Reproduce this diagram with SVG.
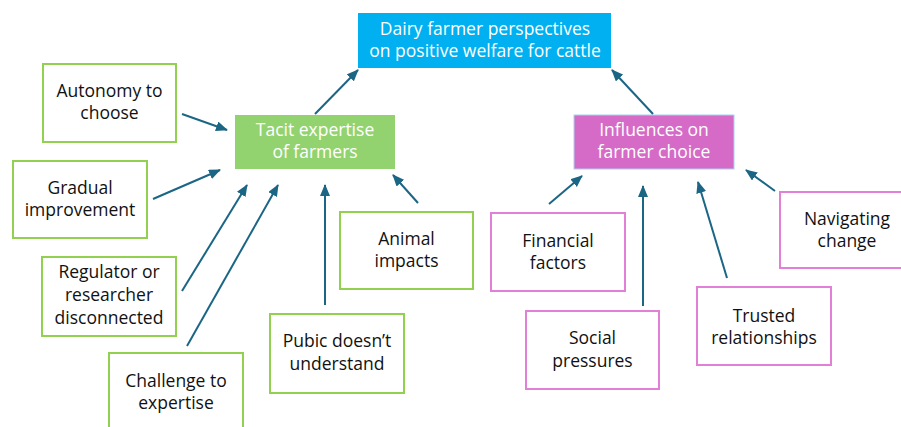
<svg xmlns="http://www.w3.org/2000/svg" width="901" height="427" viewBox="0 0 901 427">
  <style>
    text { font-family: "Open Sans", "Liberation Sans", sans-serif; font-size: 17.5px; text-anchor: middle; }
    .w { fill: #ffffff; }
    .k { fill: #111111; }
    .gbox { fill: #ffffff; stroke: #92D050; stroke-width: 2; }
    .pbox { fill: #ffffff; stroke: #E27FD6; stroke-width: 2; }
    .conn line { stroke: #1B6585; stroke-width: 2; marker-end: url(#ah); }
  </style>
  <defs>
    <marker id="ah" markerUnits="userSpaceOnUse" markerWidth="12" markerHeight="11" refX="11" refY="5" orient="auto">
      <path d="M0,0 L12,5 L0,10 z" fill="#1B6585"/>
    </marker>
  </defs>
  <rect width="901" height="427" fill="#ffffff"/>

  <g id="top">
    <rect x="358" y="13" width="253" height="55" fill="#00B0F0"/>
    <text class="w" x="485" y="35">Dairy farmer perspectives</text>
    <text class="w" x="485" y="57">on positive welfare for cattle</text>
  </g>
  <g id="tacit">
    <rect x="235" y="115" width="160" height="54" fill="#92D36F"/>
    <text class="w" x="315" y="135.5">Tacit expertise</text>
    <text class="w" x="315" y="158">of  farmers</text>
  </g>
  <g id="influences">
    <rect x="574" y="115" width="160" height="54" fill="#D56BC6" stroke="#A9D4F0" stroke-width="1"/>
    <text class="w" x="654" y="135.5">Influences on</text>
    <text class="w" x="654" y="158">farmer choice</text>
  </g>

  <g id="autonomy">
    <rect class="gbox" x="43" y="64" width="133" height="78"/>
    <text class="k" x="109.5" y="97">Autonomy to</text>
    <text class="k" x="109.5" y="119">choose</text>
  </g>
  <g id="gradual">
    <rect class="gbox" x="13" y="161" width="134" height="77"/>
    <text class="k" x="80" y="194">Gradual</text>
    <text class="k" x="80" y="216">improvement</text>
  </g>
  <g id="regulator">
    <rect class="gbox" x="42" y="257" width="134" height="79"/>
    <text class="k" x="109" y="278">Regulator or</text>
    <text class="k" x="109" y="301">researcher</text>
    <text class="k" x="109" y="324">disconnected</text>
  </g>
  <g id="challenge">
    <rect class="gbox" x="109" y="353" width="134" height="80"/>
    <text class="k" x="176" y="387">Challenge to</text>
    <text class="k" x="176" y="409">expertise</text>
  </g>
  <g id="pubic">
    <rect class="gbox" x="270" y="314" width="134" height="79"/>
    <text class="k" x="337" y="347">Pubic doesn’t</text>
    <text class="k" x="337" y="370">understand</text>
  </g>
  <g id="animal">
    <rect class="gbox" x="340" y="212" width="133" height="77"/>
    <text class="k" x="406.5" y="245">Animal</text>
    <text class="k" x="406.5" y="267">impacts</text>
  </g>

  <g id="financial">
    <rect class="pbox" x="491" y="213" width="134" height="78"/>
    <text class="k" x="558" y="247">Financial</text>
    <text class="k" x="558" y="269">factors</text>
  </g>
  <g id="social">
    <rect class="pbox" x="526" y="311" width="133" height="78"/>
    <text class="k" x="592.5" y="344">Social</text>
    <text class="k" x="592.5" y="367">pressures</text>
  </g>
  <g id="trusted">
    <rect class="pbox" x="697" y="287" width="134" height="78"/>
    <text class="k" x="764" y="322">Trusted</text>
    <text class="k" x="764" y="344">relationships</text>
  </g>
  <g id="navigating">
    <rect class="pbox" x="780" y="192" width="134" height="76"/>
    <text class="k" x="847" y="225">Navigating</text>
    <text class="k" x="847" y="247">change</text>
  </g>

  <g id="connectors" class="conn">
    <line x1="315" y1="114" x2="358" y2="70"/>
    <line x1="653" y1="114" x2="612" y2="70"/>
    <line x1="182" y1="114" x2="227" y2="130"/>
    <line x1="153" y1="199" x2="220" y2="170"/>
    <line x1="182" y1="291" x2="247" y2="185"/>
    <line x1="187" y1="346" x2="278" y2="185"/>
    <line x1="325" y1="305" x2="325" y2="185"/>
    <line x1="418" y1="203" x2="393" y2="175"/>
    <line x1="549" y1="204" x2="582" y2="176"/>
    <line x1="643" y1="306" x2="643" y2="186"/>
    <line x1="727" y1="278" x2="698" y2="182"/>
    <line x1="775" y1="191" x2="746" y2="170"/>
  </g>
</svg>
